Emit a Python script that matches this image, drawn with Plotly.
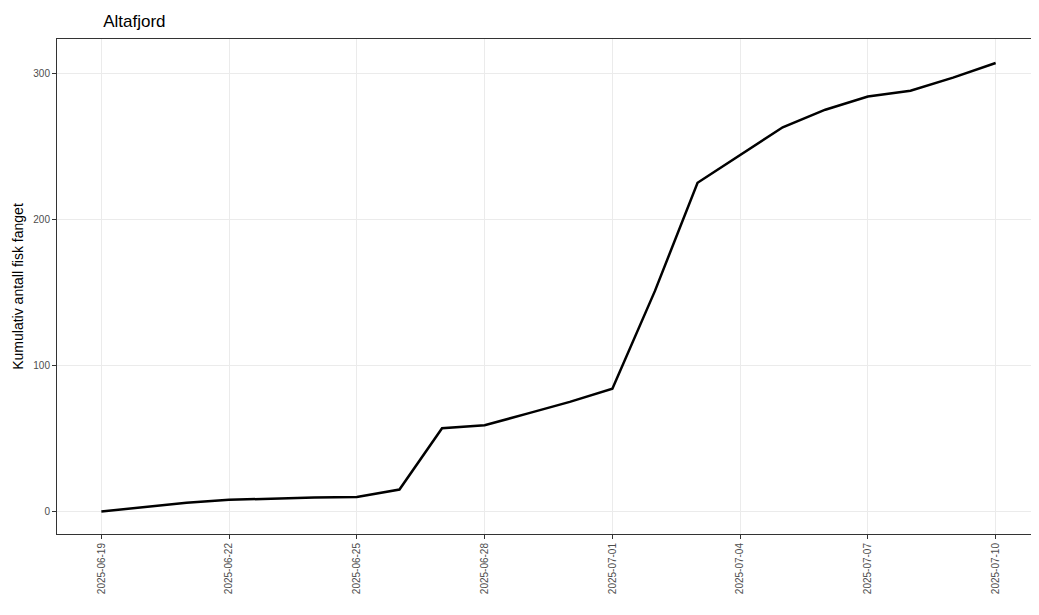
import plotly.graph_objects as go

dates = ["2025-06-19", "2025-06-20", "2025-06-21", "2025-06-22", "2025-06-23",
         "2025-06-24", "2025-06-25", "2025-06-26", "2025-06-27", "2025-06-28",
         "2025-06-29", "2025-06-30", "2025-07-01", "2025-07-02", "2025-07-03",
         "2025-07-04", "2025-07-05", "2025-07-06", "2025-07-07", "2025-07-08",
         "2025-07-09", "2025-07-10"]
cumulative = [0, 3, 6, 8, 9, 9.5, 10, 15, 57, 59, 67, 75, 84, 151, 225,
              244, 263, 275, 284, 288, 297, 307]
tick_dates = ["2025-06-19", "2025-06-22", "2025-06-25", "2025-06-28",
              "2025-07-01", "2025-07-04", "2025-07-07", "2025-07-10"]

fig = go.Figure(go.Scatter(x=dates, y=cumulative, mode="lines",
                           line=dict(color="black", width=2.5)))

fig.update_layout(
    width=1039, height=615,
    margin=dict(l=49, r=7, t=31, b=89, autoexpand=False),
    plot_bgcolor="white", paper_bgcolor="white",
    showlegend=False,
    font=dict(family="Liberation Sans, Arial", color="#4d4d4d"),
    title=dict(text="Altafjord", x=0.047, xanchor="left", xref="paper",
               yref="container", y=0.978, yanchor="middle",
               font=dict(size=17, color="black")),
)
fig.update_xaxes(
    type="date", range=["2025-06-17 23:00", "2025-07-11 01:00"],
    tickvals=tick_dates, ticktext=tick_dates, tickangle=-90, automargin=False,
    tickfont=dict(size=10), ticks="outside", ticklen=4, tickcolor="#333",
    showgrid=True, gridcolor="#ebebeb",
    showline=True, linecolor="#333", mirror=True, zeroline=False,
)
fig.update_yaxes(
    range=[-15.4, 323.4], tickvals=[0, 100, 200, 300], automargin=False,
    tickfont=dict(size=10), ticks="outside", ticklen=4, tickcolor="#333",
    showgrid=True, gridcolor="#ebebeb",
    showline=True, linecolor="#333", mirror=True, zeroline=False,
    title=dict(text="Kumulativ antall fisk fanget", font=dict(size=14, color="black"), standoff=6),
)

fig.write_html("out.html")
